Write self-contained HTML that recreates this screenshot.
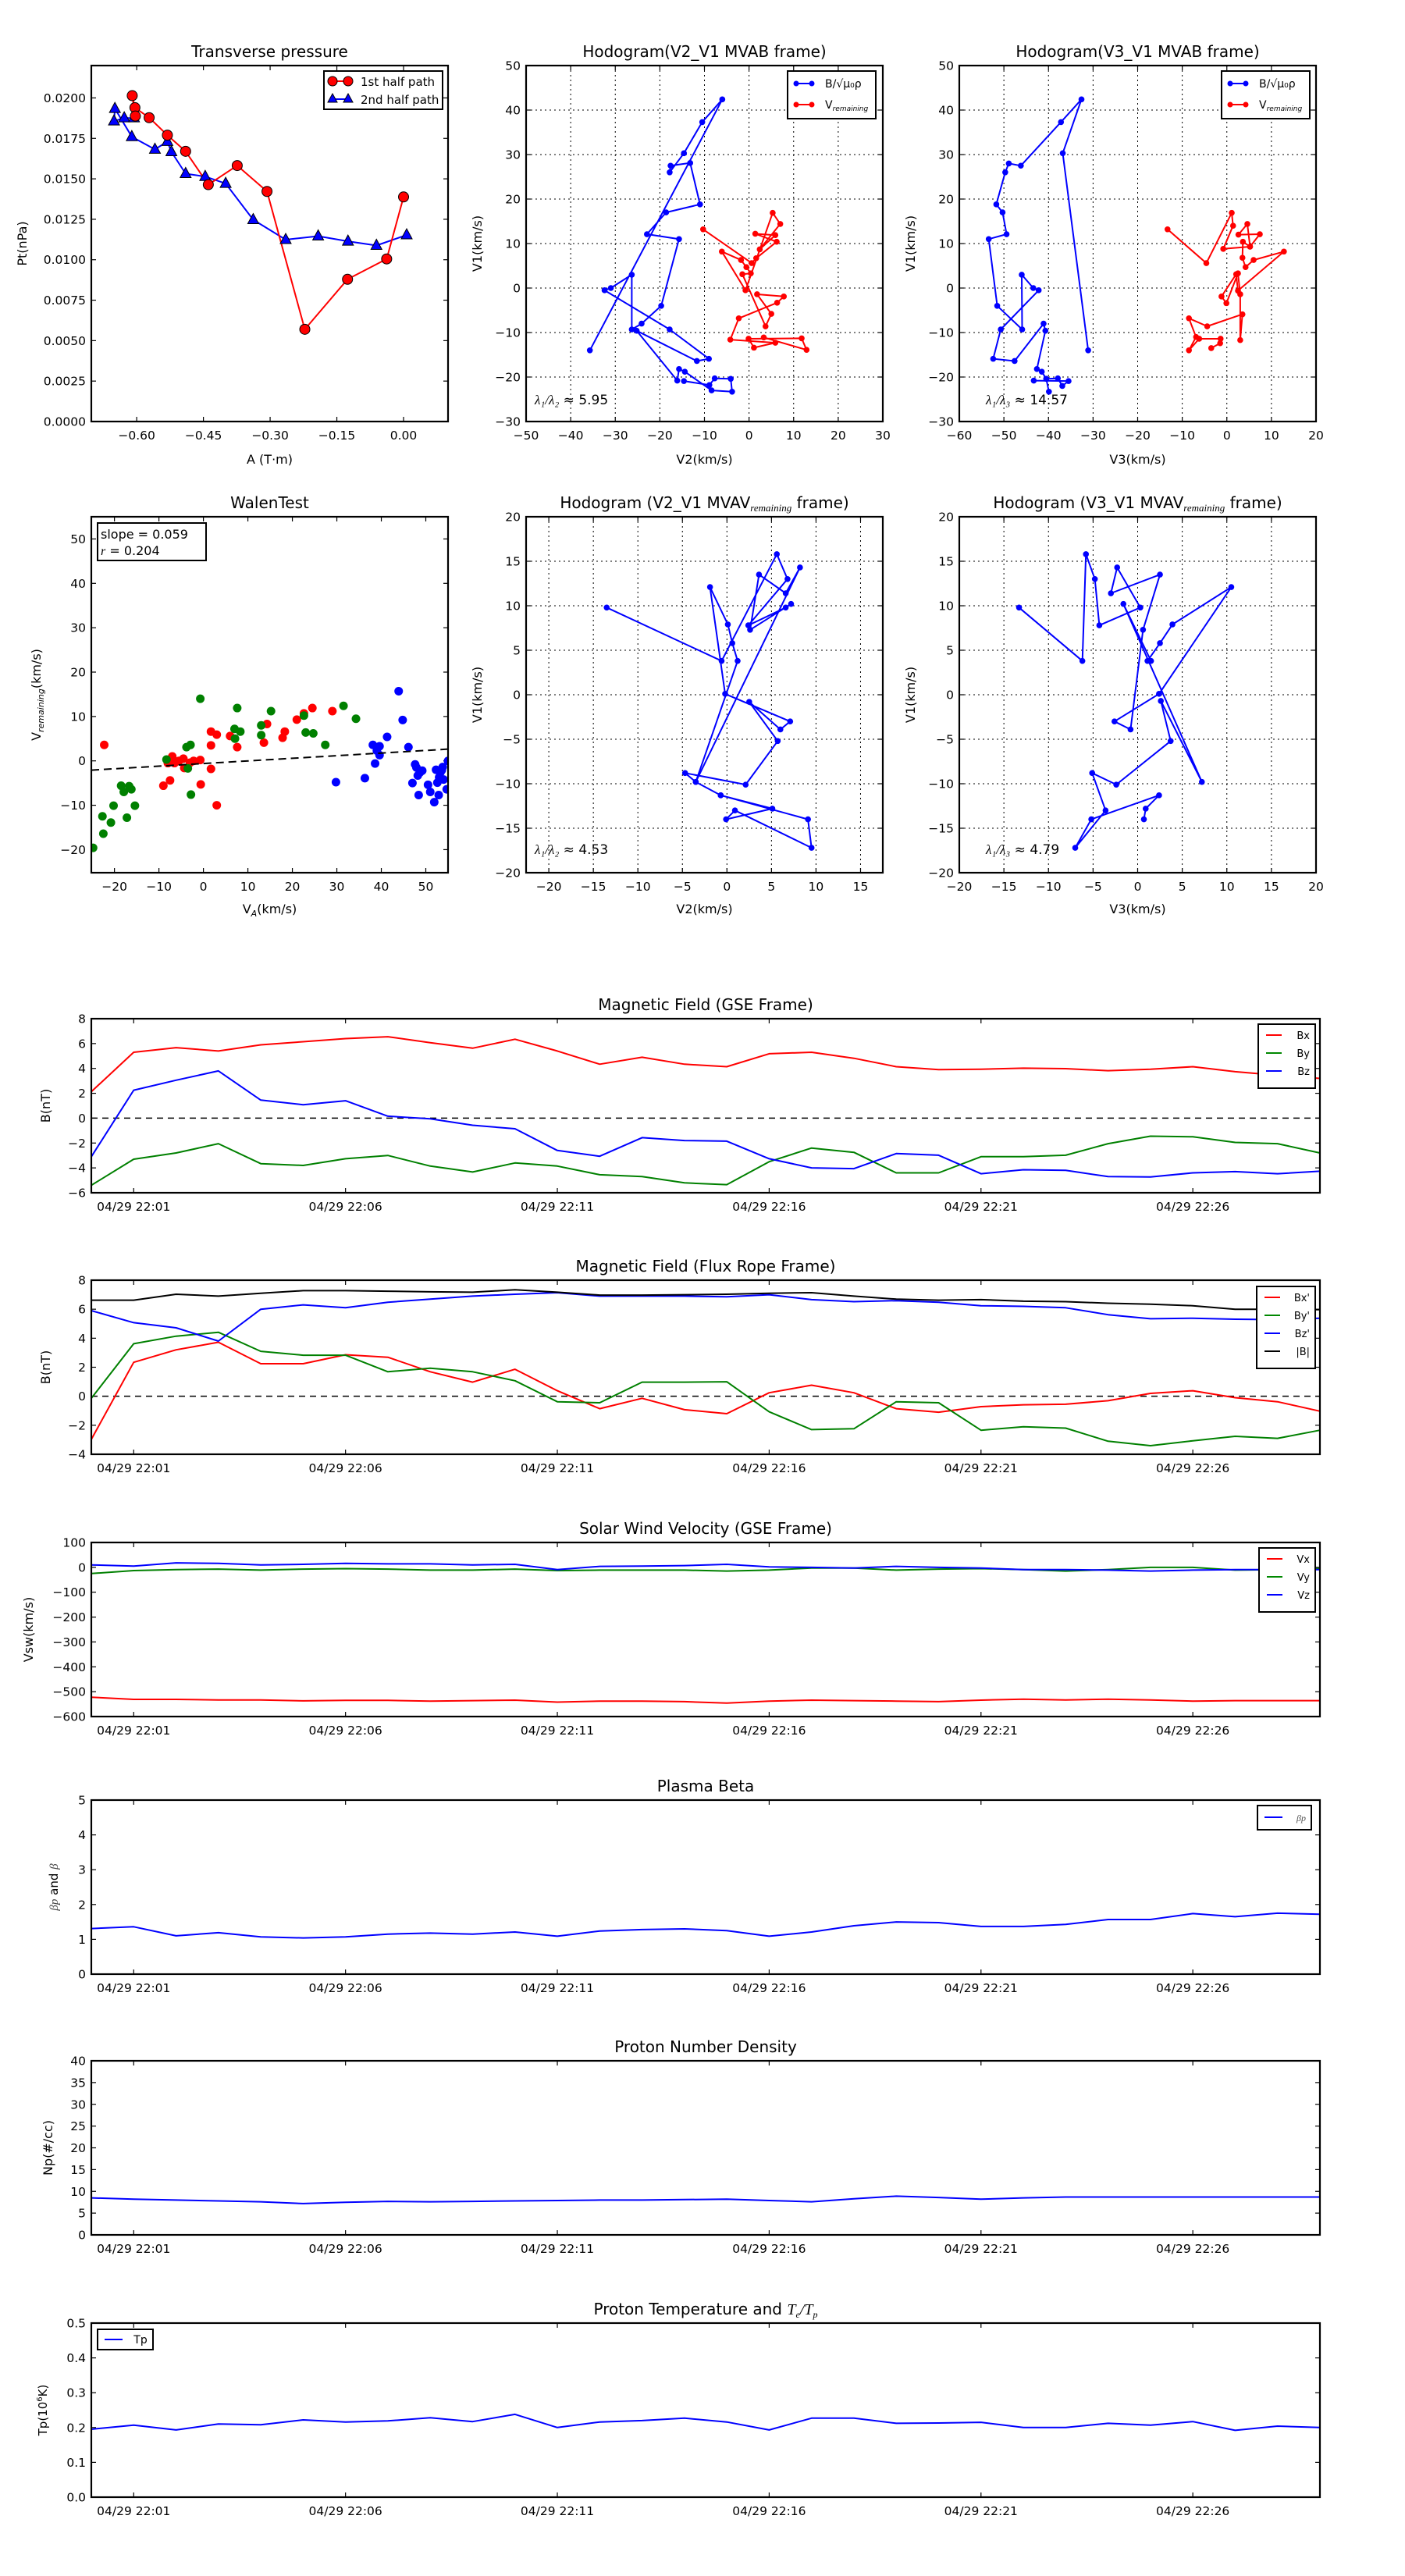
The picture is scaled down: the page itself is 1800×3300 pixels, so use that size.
<!DOCTYPE html>
<html><head><meta charset="utf-8"><title>Flux rope analysis</title>
<style>
html,body{margin:0;padding:0;background:#fff;}
svg{display:block;font-family:"DejaVu Sans","Liberation Sans",sans-serif;}
</style></head>
<body>
<svg id="chart" width="1800" height="3300" viewBox="0 0 1800 3300" xmlns="http://www.w3.org/2000/svg">
<rect x="0" y="0" width="1800" height="3300" fill="#fff"/>
</svg>
<script>
// ---------- data ----------
const ptRedA=[0,-0.038,-0.126,-0.222,-0.307,-0.374,-0.439,-0.49,-0.531,-0.572,-0.604,-0.61,-0.603];
const ptRedP=[0.01388,0.01005,0.00879,0.0057,0.01422,0.01582,0.01464,0.0167,0.0177,0.01878,0.0194,0.02014,0.01888];
const ptBlueA=[0.007,-0.061,-0.125,-0.192,-0.265,-0.338,-0.4,-0.446,-0.49,-0.522,-0.531,-0.559,-0.611,-0.649,-0.651,-0.628,-0.606];
const ptBlueP=[0.01153,0.01088,0.01114,0.01146,0.01124,0.01247,0.01471,0.01514,0.01532,0.01667,0.0173,0.01682,0.0176,0.01934,0.01857,0.01876,0.01876];

const h2BlueX=[-35.7,-6,-10.5,-14.6,-17.8,-17.6,-13.2,-11,-18.6,-22.9,-15.7,-19.7,-24.1,-26.3,-26.3,-31,-32.4,-17.8,-9,-11.7,-25.2,-16.1,-15.7,-14.4,-8.4,-3.8,-4.1,-7.7,-8.9,-14.6];
const h2BlueY=[-14,42.4,37.3,30.3,26,27.5,28.1,18.8,17,12.1,11,-4,-8,-9.3,3,0,-0.5,-9.3,-15.9,-16.4,-9.6,-20.8,-18.2,-18.8,-23,-23.3,-20.4,-20.3,-21.8,-20.9];
const h2RedX=[-10.3,0.6,1.6,6.2,1.4,5.9,2.4,7,5.3,-0.8,-6.1,-1.8,-0.6,0.4,-1.5,3.7,5,1.8,7.8,6.3,-2.3,-4.2,5.9,1.1,-0.1,11.8,12.9,3.3];
const h2RedY=[13.2,5.6,6.7,10.4,12.2,11.9,8.7,14.4,16.9,-0.5,8.2,6.3,4.7,3.3,3.1,-8.6,-5.8,-1.4,-1.9,-3.3,-6.8,-11.6,-12.3,-13.4,-11.4,-11.3,-13.9,-11.1];

const h3BlueX=[-31.1,-36.8,-32.6,-37.2,-46.2,-48.9,-49.7,-51.7,-50.3,-49.4,-53.4,-51.5,-45.9,-46,-43.4,-42.2,-50.7,-52.4,-47.6,-41.1,-40.7,-42.6,-41.5,-40.5,-39.9,-40.5,-37.9,-36.9,-35.5,-43.3];
const h3BlueY=[-14,30.3,42.4,37.3,27.5,28,26,18.8,17,12.1,11,-4,-9.3,3,0,-0.5,-9.3,-15.9,-16.4,-8,-9.6,-18.2,-18.8,-20.4,-23.3,-20.4,-20.3,-22,-20.9,-20.8];
const h3RedX=[-13.3,-4.6,1.1,1.4,-0.8,5.2,7.4,2.6,4.6,5.2,3.6,3.5,4.2,6,12.8,2.5,2.1,-1.2,-0.1,2.5,3,3,3.5,-4.4,-8.5,-6.9,-8.5,-6.2,-1.4,-1.5,-3.5];
const h3RedY=[13.2,5.6,16.9,14,8.8,9.3,12.1,12,14.4,9.3,10.4,6.8,4.7,6.3,8.2,-0.6,3.1,-1.9,-3.4,3.3,-1.4,-11.7,-5.9,-8.6,-6.8,-11,-14,-11.4,-11.4,-12.4,-13.5];

const walenRedX=[-22.3,-9,-7.5,-8,-7,-6.5,-5.5,-4.5,-4.3,-3,-2.2,-0.7,-0.6,1.7,1.7,1.7,3,3,6,7.6,13.6,14.3,17.8,18.3,21,22.6,24.5,29];
const walenRedY=[3.6,-5.6,-4.4,-0.5,1,-0.5,0,0.5,-1.6,-0.4,0,0.2,-5.3,6.6,3.5,-1.8,5.9,-10,5.6,3.1,4.1,8.3,5.2,6.6,9.3,10.7,11.9,11.2];
const walenGreenX=[-24.8,-22.7,-22.5,-20.8,-20.2,-18.5,-17.9,-17.2,-16.7,-16.2,-15.4,-8.3,-3.8,-2.9,-3.5,-2.8,-0.7,7,7.1,7.6,8.3,13,13,15.2,22.6,23,24.7,27.4,31.5,34.3];
const walenGreenY=[-19.6,-12.5,-16.4,-13.9,-10.1,-5.6,-7,-12.8,-5.7,-6.4,-10.1,0.3,3.1,3.6,-1.7,-7.6,14,7.2,5,11.9,6.6,8,5.8,11.2,10.2,6.4,6.2,3.6,12.4,9.5];
const walenBlueX=[29.8,36.3,38.1,38.6,39,39.6,39.6,41.3,43.9,44.8,46.1,47,47.6,47.9,48.2,48.4,48.7,49.2,50.5,51,51.9,52.3,52.6,52.9,53,53.3,53.6,53.8,54,54.7,55];
const walenBlueY=[-4.8,-3.9,3.6,-0.6,2.3,3.3,1.3,5.4,15.7,9.2,3.1,-5,-0.8,-1.5,-3.3,-7.7,-2.6,-2.2,-5.4,-7,-9.3,-2,-4.9,-7.7,-3.7,-2.6,-2.1,-1.4,-4.2,-6.4,0];
const walenSlope=0.059, walenIntercept=-0.6;

const m2X=[-13.5,-0.6,5.6,6.8,2.4,6.6,7.2,2.6,3.6,6.6,8.2,-3.5,1.2,0.6,0.1,-1.9,-0.2,7.1,6,2.5,5.7,2.1,-4.7,-3.5,-0.7,5.1,-0.1,0.9,9.5,9.1,-0.7];
const m2Y=[9.8,3.8,15.8,13,7.8,9.8,10.2,7.3,13.5,11.4,14.3,-9.8,3.8,5.8,7.9,12.1,0.1,-3,-3.9,-0.8,-5.2,-10.1,-8.8,-9.8,-11.3,-12.8,-14,-13,-17.2,-14,-11.3];
const m3X=[-13.3,-6.2,-5.8,-4.8,-4.3,0.3,-2.3,-3,2.5,0.6,-0.8,-2.6,2.4,10.5,3.9,2.5,1.1,1.5,-1.6,7.2,2.6,3.7,-2.4,-5.1,-3.6,-7,-5.2,2.4,0.9,0.7];
const m3Y=[9.8,3.8,15.8,13,7.8,9.8,14.3,11.4,13.5,7.3,-3.9,-3,0.1,12.1,7.9,5.8,3.8,3.8,10.2,-9.8,-0.7,-5.2,-10.1,-8.8,-13,-17.2,-14,-11.3,-12.8,-14];

const timeMinutes=[0,1,2,3,4,5,6,7,8,9,10,11,12,13,14,15,16,17,18,19,20,21,22,23,24,25,26,27,28,29];
const timeTickMin=[1,6,11,16,21,26];
const timeTickLabels=["04/29 22:01","04/29 22:06","04/29 22:11","04/29 22:16","04/29 22:21","04/29 22:26"];

const gseBx=[2.13,5.3,5.67,5.4,5.9,6.15,6.4,6.55,6.07,5.63,6.35,5.4,4.34,4.9,4.34,4.14,5.18,5.3,4.82,4.14,3.9,3.94,4.02,3.98,3.82,3.94,4.14,3.74,3.45,3.2];
const gseBy=[-5.4,-3.3,-2.8,-2.05,-3.66,-3.8,-3.26,-3.0,-3.85,-4.33,-3.6,-3.85,-4.55,-4.7,-5.2,-5.35,-3.5,-2.4,-2.75,-4.4,-4.4,-3.1,-3.1,-2.98,-2.05,-1.45,-1.5,-1.95,-2.05,-2.8];
const gseBz=[-3.1,2.25,3.05,3.8,1.45,1.08,1.4,0.16,-0.05,-0.57,-0.85,-2.6,-3.06,-1.57,-1.8,-1.85,-3.26,-4.0,-4.06,-2.85,-2.98,-4.47,-4.15,-4.2,-4.7,-4.73,-4.4,-4.3,-4.47,-4.27];

const frBx=[-2.97,2.34,3.2,3.72,2.24,2.24,2.86,2.69,1.69,0.97,1.86,0.38,-0.86,-0.14,-0.93,-1.2,0.24,0.76,0.24,-0.86,-1.1,-0.72,-0.59,-0.55,-0.31,0.2,0.38,-0.1,-0.38,-1.03];
const frBy=[-0.14,3.62,4.14,4.41,3.1,2.83,2.83,1.69,1.93,1.69,1.07,-0.38,-0.45,0.97,0.97,1.0,-1.07,-2.3,-2.24,-0.38,-0.45,-2.34,-2.1,-2.2,-3.1,-3.41,-3.07,-2.76,-2.9,-2.34];
const frBz=[5.9,5.07,4.72,3.8,6.0,6.3,6.1,6.48,6.69,6.9,7.03,7.14,6.9,6.9,6.9,6.86,7.0,6.66,6.52,6.59,6.48,6.24,6.2,6.1,5.62,5.34,5.38,5.31,5.28,5.38];
const frBt=[6.62,6.62,7.03,6.9,7.1,7.28,7.28,7.24,7.2,7.17,7.34,7.17,6.97,6.97,7.0,7.03,7.1,7.14,6.9,6.69,6.62,6.66,6.55,6.52,6.41,6.34,6.24,6.0,6.0,5.97];

const vswX=[-522,-531,-531,-533,-533,-537,-535,-535,-538,-536,-534,-542,-538,-538,-540,-546,-538,-534,-536,-538,-540,-534,-530,-533,-530,-533,-538,-536,-536,-536];
const vswY=[-25,-13,-9,-7,-11,-7,-5,-7,-11,-11,-7,-13,-11,-11,-11,-15,-11,-3,-3,-11,-7,-5,-9,-15,-9,0,0,-11,-9,-5];
const vswZ=[10,5,18,16,10,12,16,14,14,10,12,-9,4,5,7,12,2,0,-3,4,0,-3,-9,-9,-11,-15,-11,-9,-9,-9];

const betaP=[1.31,1.36,1.1,1.19,1.07,1.04,1.07,1.15,1.18,1.15,1.21,1.09,1.24,1.28,1.3,1.25,1.09,1.21,1.39,1.5,1.48,1.37,1.37,1.43,1.57,1.57,1.74,1.65,1.75,1.72];
const densNp=[8.5,8.2,8.0,7.8,7.6,7.2,7.5,7.7,7.6,7.7,7.8,7.9,8.0,8.0,8.1,8.2,7.9,7.6,8.3,8.9,8.6,8.2,8.5,8.7,8.7,8.7,8.7,8.7,8.7,8.7];
const tempTp=[0.195,0.207,0.193,0.21,0.208,0.222,0.216,0.219,0.228,0.217,0.238,0.2,0.216,0.22,0.227,0.216,0.193,0.227,0.227,0.212,0.213,0.215,0.2,0.2,0.212,0.207,0.217,0.192,0.204,0.2];

// ---------- drawing helpers ----------
const NS="http://www.w3.org/2000/svg";
const svg=document.getElementById('chart');
function mk(tag,attrs,parent){const e=document.createElementNS(NS,tag);for(const k in attrs)e.setAttribute(k,attrs[k]);(parent||svg).appendChild(e);return e;}
function txt(s,x,y,size,anchor,parent,extra){const t=mk('text',Object.assign({x:x,y:y,'font-size':size,'text-anchor':anchor||'middle',fill:'#000'},extra||{}),parent);t.textContent=s;return t;}
function fmtNum(v,dec){let s=v.toFixed(dec);if(s.startsWith('-'))s='\u2212'+s.slice(1);return s;}

function makeAxes(name,x0,y0,x1,y1,xmin,xmax,ymin,ymax){
  const g=mk('g',{});
  
  
  const sx=v=>x0+(v-xmin)/(xmax-xmin)*(x1-x0);
  const sy=v=>y1-(v-ymin)/(ymax-ymin)*(y1-y0);
  return {g,sx,sy,x0,y0,x1,y1};
}
function frame(ax){
  const r=mk('rect',{x:ax.x0,y:ax.y0,width:ax.x1-ax.x0,height:ax.y1-ax.y0,fill:'none',stroke:'#000','stroke-width':2.2},ax.g);
  
  
}
function xTicks(ax,vals,labels,grid){
  const tg=mk('g',{},ax.g);
  
  
  vals.forEach((v,i)=>{const x=ax.sx(v);
    if(grid) mk('line',{x1:x,x2:x,y1:ax.y0,y2:ax.y1,stroke:'#000','stroke-width':1,'stroke-dasharray':'2,4'},tg);
    mk('line',{x1:x,x2:x,y1:ax.y1,y2:ax.y1-6,stroke:'#000','stroke-width':1.2},tg);
    mk('line',{x1:x,x2:x,y1:ax.y0,y2:ax.y0+6,stroke:'#000','stroke-width':1.2},tg);
    const t=txt(labels[i],x,ax.y1+23,15.5,'middle',tg);
    
    
  });
}
function yTicks(ax,vals,labels,grid){
  const tg=mk('g',{},ax.g);
  
  
  vals.forEach((v,i)=>{const y=ax.sy(v);
    if(grid) mk('line',{x1:ax.x0,x2:ax.x1,y1:y,y2:y,stroke:'#000','stroke-width':1,'stroke-dasharray':'2,4'},tg);
    mk('line',{x1:ax.x0,x2:ax.x0+6,y1:y,y2:y,stroke:'#000','stroke-width':1.2},tg);
    mk('line',{x1:ax.x1,x2:ax.x1-6,y1:y,y2:y,stroke:'#000','stroke-width':1.2},tg);
    const t=txt(labels[i],ax.x0-7,y+5.5,15.5,'end',tg);
    
    
  });
}
function title(ax,s,name){const t=txt(s,(ax.x0+ax.x1)/2,ax.y0-11,20,'middle',ax.g);return t;}
function ylabel(ax,s,x,name){const cy=(ax.y0+ax.y1)/2;const t=txt(s,x,cy,16,'middle',ax.g,{transform:'rotate(-90 '+x+' '+cy+')'});return t;}
function xlabel(ax,s,y,name){const t=txt(s,(ax.x0+ax.x1)/2,y,16,'middle',ax.g);return t;}
function poly(ax,xs,ys,color,name,w){
  const pts=xs.map((x,i)=>ax.sx(x).toFixed(1)+','+ax.sy(ys[i]).toFixed(1)).join(' ');
  const p=mk('polyline',{points:pts,fill:'none',stroke:color,'stroke-width':w||2,'stroke-linejoin':'round'},ax.g);
  
  
  return p;
}
function dots(ax,xs,ys,color,r,name,stroke){
  const g=mk('g',{},ax.g);
  
  
  xs.forEach((x,i)=>{mk('circle',{cx:ax.sx(x),cy:ax.sy(ys[i]),r:r,fill:color,stroke:stroke||'none','stroke-width':1},g);});
}
function tris(ax,xs,ys,color,name){
  const g=mk('g',{},ax.g);
  
  
  xs.forEach((x,i)=>{const cx=ax.sx(x),cy=ax.sy(ys[i]);
    mk('polygon',{points:(cx)+','+(cy-8)+' '+(cx-7)+','+(cy+5)+' '+(cx+7)+','+(cy+5),fill:color,stroke:'#000','stroke-width':1},g);});
}
function range(a,b,s){const r=[];for(let v=a;v<=b+1e-9;v+=s)r.push(Math.round(v*10000)/10000);return r;}
function legendBox(ax,x,y,w,h,name){const g=mk('g',{},ax.g);
  mk('rect',{x:x,y:y,width:w,height:h,fill:'#fff',stroke:'#000','stroke-width':2},g);return g;}

// ---------- Panel 1: transverse pressure ----------
{
 const ax=makeAxes('transverse-pressure-panel',117,84,574,540,-0.702,0.1,0,0.022);
 const xv=[-0.6,-0.45,-0.3,-0.15,0];
 xTicks(ax,xv,xv.map(v=>fmtNum(v,2)),false);
 const yv=range(0,0.02,0.0025);
 yTicks(ax,yv,yv.map(v=>v.toFixed(4)),false);
 poly(ax,ptBlueA,ptBlueP,'#0000ff','second-half-path-line');
 poly(ax,ptRedA,ptRedP,'#ff0000','first-half-path-line');
 tris(ax,ptBlueA,ptBlueP,'#0000ff','second-half-path-markers');
 dots(ax,ptRedA,ptRedP,'#ff0000',6.5,'first-half-path-markers','#000');
 frame(ax);
 title(ax,'Transverse pressure','transverse-pressure-title');
 ylabel(ax,'Pt(nPa)',34,'pt-axis-title');
 xlabel(ax,'A (T\u00b7m)',594,'a-axis-title');
 const lg=legendBox(ax,415,91,152,49,'pressure-legend');
 mk('line',{x1:425,x2:447,y1:104,y2:104,stroke:'#f00','stroke-width':2},lg);
 mk('circle',{cx:426,cy:104,r:6,fill:'#f00',stroke:'#000'},lg);mk('circle',{cx:446,cy:104,r:6,fill:'#f00',stroke:'#000'},lg);
 txt('1st half path',462,110,15,'start',lg);
 mk('line',{x1:425,x2:447,y1:127,y2:127,stroke:'#00f','stroke-width':2},lg);
 mk('polygon',{points:'426,120 420,131 432,131',fill:'#00f',stroke:'#000'},lg);mk('polygon',{points:'446,120 440,131 452,131',fill:'#00f',stroke:'#000'},lg);
 txt('2nd half path',462,133,15,'start',lg);
}

// ---------- hodogram helper ----------
function hodoLegend(ax,x,name){
 const lg=legendBox(ax,x,91,113,61,name);
 mk('line',{x1:x+11,x2:x+31,y1:107,y2:107,stroke:'#00f','stroke-width':2},lg);
 mk('circle',{cx:x+11,cy:107,r:3.5,fill:'#00f'},lg);mk('circle',{cx:x+31,cy:107,r:3.5,fill:'#00f'},lg);
 txt('B/\u221a\u03bc\u2080\u03c1',x+48,112,14,'start',lg);
 mk('line',{x1:x+11,x2:x+31,y1:134,y2:134,stroke:'#f00','stroke-width':2},lg);
 mk('circle',{cx:x+11,cy:134,r:3.5,fill:'#f00'},lg);mk('circle',{cx:x+31,cy:134,r:3.5,fill:'#f00'},lg);
 const t=txt('V',x+48,139,14,'start',lg);const s=mk('tspan',{'font-size':9,'font-style':'italic',dy:3},t);s.textContent='remaining';
}
function lambdaText(ax,x,y,sub,val,name){
 const t=txt('',x,y,17,'start',ax.g);
 
 
 const a=mk('tspan',{'font-style':'italic','font-family':'Liberation Serif, serif'},t);a.textContent='\u03bb\u2081/\u03bb'+sub;
 const b=mk('tspan',{},t);b.textContent=' \u2248 '+val;
}

// ---------- Panel 2: hodogram V2_V1 MVAB ----------
{
 const ax=makeAxes('hodogram-v2-v1-mvab-panel',674,84,1131,540,-50,30,-30,50);
 const xv=range(-50,30,10),yv=range(-30,50,10);
 xTicks(ax,xv,xv.map(v=>fmtNum(v,0)),true);
 yTicks(ax,yv,yv.map(v=>fmtNum(v,0)),true);
 poly(ax,h2BlueX,h2BlueY,'#0000ff','b-alfven-path');
 dots(ax,h2BlueX,h2BlueY,'#0000ff',3.8,'b-alfven-points');
 poly(ax,h2RedX,h2RedY,'#ff0000','v-remaining-path');
 dots(ax,h2RedX,h2RedY,'#ff0000',3.8,'v-remaining-points');
 frame(ax);
 title(ax,'Hodogram(V2_V1 MVAB frame)','hodogram-v2-mvab-title');
 ylabel(ax,'V1(km/s)',617,'v1-axis-title');
 xlabel(ax,'V2(km/s)',594,'v2-axis-title');
 hodoLegend(ax,1009,'hodogram-v2-mvab-legend');
 lambdaText(ax,685,518,'\u2082','5.95','eigenvalue-ratio-v2');
}
// ---------- Panel 3: hodogram V3_V1 MVAB ----------
{
 const ax=makeAxes('hodogram-v3-v1-mvab-panel',1229,84,1686,540,-60,20,-30,50);
 const xv=range(-60,20,10),yv=range(-30,50,10);
 xTicks(ax,xv,xv.map(v=>fmtNum(v,0)),true);
 yTicks(ax,yv,yv.map(v=>fmtNum(v,0)),true);
 poly(ax,h3BlueX,h3BlueY,'#0000ff','b-alfven-path');
 dots(ax,h3BlueX,h3BlueY,'#0000ff',3.8,'b-alfven-points');
 poly(ax,h3RedX,h3RedY,'#ff0000','v-remaining-path');
 dots(ax,h3RedX,h3RedY,'#ff0000',3.8,'v-remaining-points');
 frame(ax);
 title(ax,'Hodogram(V3_V1 MVAB frame)','hodogram-v3-mvab-title');
 ylabel(ax,'V1(km/s)',1172,'v1-axis-title');
 xlabel(ax,'V3(km/s)',594,'v3-axis-title');
 hodoLegend(ax,1565,'hodogram-v3-mvab-legend');
 lambdaText(ax,1263,518,'\u2083','14.57','eigenvalue-ratio-v3');
}
// ---------- Panel 4: Walen test ----------
{
 const ax=makeAxes('walen-test-panel',117,662,574,1118,-25.2,55,-25.2,55);
 const xv=range(-20,50,10),yv=range(-20,50,10);
 xTicks(ax,xv,xv.map(v=>fmtNum(v,0)),false);
 yTicks(ax,yv,yv.map(v=>fmtNum(v,0)),false);
 const clip=mk('clipPath',{id:'walenclip'},ax.g);mk('rect',{x:117,y:662,width:457,height:456},clip);
 const pg=mk('g',{'clip-path':'url(#walenclip)'},ax.g);
 const sub={g:pg,sx:ax.sx,sy:ax.sy};
 dots(sub,walenRedX,walenRedY,'#ff0000',5.5,'walen-points-red');
 dots(sub,walenGreenX,walenGreenY,'#008000',5.5,'walen-points-green');
 dots(sub,walenBlueX,walenBlueY,'#0000ff',5.5,'walen-points-blue');
 const fx=[-25.2,55];
 const fit=mk('line',{x1:ax.sx(fx[0]),y1:ax.sy(walenIntercept+walenSlope*fx[0]),x2:ax.sx(fx[1]),y2:ax.sy(walenIntercept+walenSlope*fx[1]),stroke:'#000','stroke-width':2,'stroke-dasharray':'10,6'},pg);
 
 
 frame(ax);
 title(ax,'WalenTest','walen-test-title');
 const yl=ylabel(ax,'',52,'v-remaining-axis-title');
 yl.textContent='V';const s1=mk('tspan',{'font-size':11,'font-style':'italic',dy:4},yl);s1.textContent='remaining';const s2=mk('tspan',{dy:-4},yl);s2.textContent='(km/s)';
 const xl=xlabel(ax,'V',1170,'va-axis-title');const s3=mk('tspan',{'font-size':11,'font-style':'italic',dy:4},xl);s3.textContent='A';const s4=mk('tspan',{dy:-4},xl);s4.textContent='(km/s)';
 const lg=legendBox(ax,125,670,139,48,'walen-stats-box');
 txt('slope = 0.059',129,690,16,'start',lg);
 const r=txt('',129,711,16,'start',lg);const ri=mk('tspan',{'font-style':'italic','font-family':'Liberation Serif, serif'},r);ri.textContent='r';const rv=mk('tspan',{},r);rv.textContent=' = 0.204';
}
// ---------- Panel 5/6: MVAV hodograms ----------
function mvavTitle(ax,label,name){
 const t=title(ax,'Hodogram ('+label+' MVAV',name);
 const s=mk('tspan',{'font-size':13,'font-style':'italic','font-family':'Liberation Serif, serif',dy:4},t);s.textContent='remaining';
 const e=mk('tspan',{dy:-4},t);e.textContent=' frame)';
}
{
 const ax=makeAxes('hodogram-v2-v1-mvav-panel',674,662,1131,1118,-22.55,17.5,-20,20);
 const xv=range(-20,15,5),yv=range(-20,20,5);
 xTicks(ax,xv,xv.map(v=>fmtNum(v,0)),true);
 yTicks(ax,yv,yv.map(v=>fmtNum(v,0)),true);
 poly(ax,m2X,m2Y,'#0000ff','mvav-v2-path');
 dots(ax,m2X,m2Y,'#0000ff',3.8,'mvav-v2-points');
 frame(ax);
 mvavTitle(ax,'V2_V1','hodogram-v2-mvav-title');
 ylabel(ax,'V1(km/s)',617,'v1-axis-title');
 xlabel(ax,'V2(km/s)',1170,'v2-axis-title');
 lambdaText(ax,685,1094,'\u2082','4.53','eigenvalue-ratio-mvav-v2');
}
{
 const ax=makeAxes('hodogram-v3-v1-mvav-panel',1229,662,1686,1118,-20,20,-20,20);
 const xv=range(-20,20,5),yv=range(-20,20,5);
 xTicks(ax,xv,xv.map(v=>fmtNum(v,0)),true);
 yTicks(ax,yv,yv.map(v=>fmtNum(v,0)),true);
 poly(ax,m3X,m3Y,'#0000ff','mvav-v3-path');
 dots(ax,m3X,m3Y,'#0000ff',3.8,'mvav-v3-points');
 frame(ax);
 mvavTitle(ax,'V3_V1','hodogram-v3-mvav-title');
 ylabel(ax,'V1(km/s)',1172,'v1-axis-title');
 xlabel(ax,'V3(km/s)',1170,'v3-axis-title');
 lambdaText(ax,1263,1094,'\u2083','4.79','eigenvalue-ratio-mvav-v3');
}

// ---------- time series ----------
function timePanel(name,y0,ymin,ymax,yv,ylabels,ttl,ylab,ylabX){
 const ax=makeAxes(name,117,y0,1691,y0+223,0,29,ymin,ymax);
 xTicks(ax,timeTickMin,timeTickLabels,false);
 yTicks(ax,yv,ylabels,false);
 title(ax,ttl,name+'-title');
 if(ylab) ylabel(ax,ylab,ylabX,name+'-y-axis-title');
 return ax;
}
function zeroLine(ax){const l=mk('line',{x1:ax.x0,x2:ax.x1,y1:ax.sy(0),y2:ax.sy(0),stroke:'#000','stroke-width':1.5,'stroke-dasharray':'8,6'},ax.g);}
function seriesLegend(ax,x,y,w,entries,name){
 const lg=legendBox(ax,x,y,w,entries.length*23+13,name);
 entries.forEach((e,i)=>{const yy=y+14+i*23;
  mk('line',{x1:x+10,x2:x+30,y1:yy,y2:yy,stroke:e[1],'stroke-width':2},lg);
  txt(e[0],x+w-7,yy+5,13,'end',lg);});
}
{
 const yv=range(-6,8,2);
 const ax=timePanel('magnetic-field-gse-panel',1305,-6,8,yv,yv.map(v=>fmtNum(v,0)),'Magnetic Field (GSE Frame)','B(nT)',64);
 zeroLine(ax);
 poly(ax,timeMinutes,gseBx,'#ff0000','bx-line');
 poly(ax,timeMinutes,gseBy,'#008000','by-line');
 poly(ax,timeMinutes,gseBz,'#0000ff','bz-line');
 frame(ax);
 seriesLegend(ax,1612,1312,73,[['Bx','#f00'],['By','#080'],['Bz','#00f']],'gse-legend');
}
{
 const yv=range(-4,8,2);
 const ax=timePanel('magnetic-field-flux-rope-panel',1640,-4,8,yv,yv.map(v=>fmtNum(v,0)),'Magnetic Field (Flux Rope Frame)','B(nT)',64);
 zeroLine(ax);
 poly(ax,timeMinutes,frBx,'#ff0000','bx-prime-line');
 poly(ax,timeMinutes,frBy,'#008000','by-prime-line');
 poly(ax,timeMinutes,frBz,'#0000ff','bz-prime-line');
 poly(ax,timeMinutes,frBt,'#000000','b-magnitude-line');
 frame(ax);
 seriesLegend(ax,1610,1648,75,[["Bx'",'#f00'],["By'",'#080'],["Bz'",'#00f'],['|B|','#000']],'flux-rope-legend');
}
{
 const yv=range(-600,100,100);
 const ax=timePanel('solar-wind-velocity-panel',1976,-600,100,yv,yv.map(v=>fmtNum(v,0)),'Solar Wind Velocity (GSE Frame)','Vsw(km/s)',42);
 poly(ax,timeMinutes,vswX,'#ff0000','vx-line');
 poly(ax,timeMinutes,vswY,'#008000','vy-line');
 poly(ax,timeMinutes,vswZ,'#0000ff','vz-line');
 frame(ax);
 seriesLegend(ax,1613,1983,72,[['Vx','#f00'],['Vy','#080'],['Vz','#00f']],'velocity-legend');
}
{
 const yv=range(0,5,1);
 const ax=timePanel('plasma-beta-panel',2306,0,5,yv,yv.map(v=>fmtNum(v,0)),'Plasma Beta','',0);
 const cy=(2306+2529)/2;
 const t=txt('',74,cy,15,'middle',ax.g,{transform:'rotate(-90 74 '+cy+')'});
 
 
 const a=mk('tspan',{'font-style':'italic','font-family':'Liberation Serif, serif',fill:'#444'},t);a.textContent='\u03b2p';
 const b=mk('tspan',{},t);b.textContent=' and ';
 const c=mk('tspan',{'font-style':'italic','font-family':'Liberation Serif, serif',fill:'#444'},t);c.textContent='\u03b2';
 poly(ax,timeMinutes,betaP,'#0000ff','beta-p-line');
 frame(ax);
 const lg=legendBox(ax,1611,2313,69,31,'beta-legend');
 mk('line',{x1:1620,x2:1643,y1:2328,y2:2328,stroke:'#00f','stroke-width':2},lg);
 txt('\u03b2p',1667,2333,12,'middle',lg,{'font-style':'italic','font-family':'Liberation Serif, serif',fill:'#555'});
}
{
 const yv=range(0,40,5);
 const ax=timePanel('proton-density-panel',2640,0,40,yv,yv.map(v=>fmtNum(v,0)),'Proton Number Density','Np(#/cc)',67);
 poly(ax,timeMinutes,densNp,'#0000ff','np-line');
 frame(ax);
}
{
 const yv=range(0,0.5,0.1);
 const ax=timePanel('proton-temperature-panel',2976,0,0.5,yv,yv.map(v=>v.toFixed(1)),'Proton Temperature and ','',0);
 const tt=svg.querySelectorAll('text');const T=tt[tt.length-1];
 const sp=mk('tspan',{'font-style':'italic','font-family':'Liberation Serif, serif'},T);sp.textContent='T';
 const s2=mk('tspan',{'font-size':12,'font-style':'italic','font-family':'Liberation Serif, serif',dy:4},T);s2.textContent='e';
 const s3=mk('tspan',{'font-style':'italic','font-family':'Liberation Serif, serif',dy:-4},T);s3.textContent='/T';
 const s4=mk('tspan',{'font-size':12,'font-style':'italic','font-family':'Liberation Serif, serif',dy:4},T);s4.textContent='p';
 const cy=(2976+3199)/2;
 const t=txt('Tp(10',60,cy,15,'middle',ax.g,{transform:'rotate(-90 60 '+cy+')'});
 
 
 const a=mk('tspan',{'font-size':10,dy:-6},t);a.textContent='6';
 const b=mk('tspan',{dy:6},t);b.textContent='K)';
 poly(ax,timeMinutes,tempTp,'#0000ff','tp-line');
 frame(ax);
 const lg=legendBox(ax,125,2984,71,26,'tp-legend');
 mk('line',{x1:134,x2:157,y1:2997,y2:2997,stroke:'#00f','stroke-width':2},lg);
 txt('Tp',180,3002,14,'middle',lg);
}
</script>
</body></html>
